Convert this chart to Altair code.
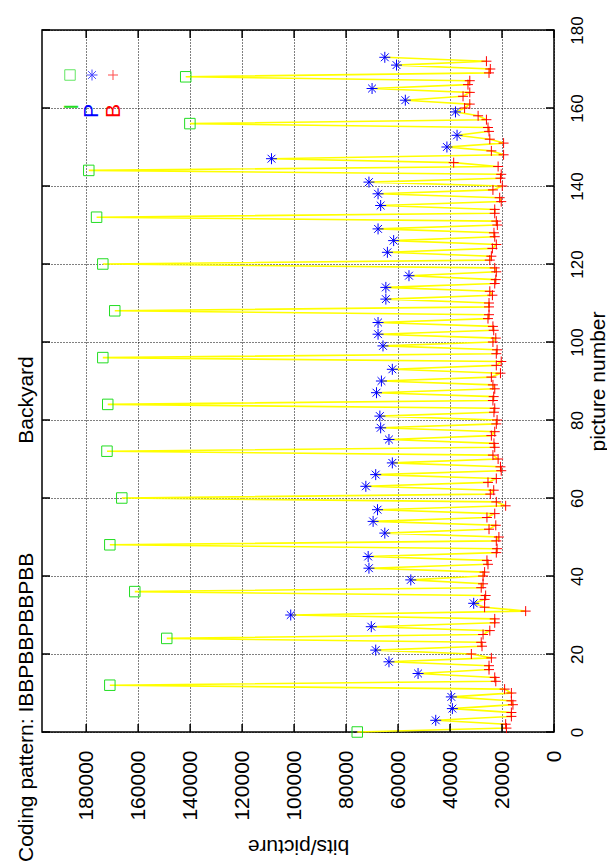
import altair as alt
import pandas as pd

FONT = "Liberation Sans"

pattern = "IBBPBBPBBPBB"
last_frame = 173

i_bits = [75700, 170900, 149000, 161300, 170900, 166300, 172000, 171700,
          173600, 169000, 173600, 176000, 179000, 140100, 141700]
p_bits = [45500, 39100, 39500, 52300, 63500, 68600, 70300, 101300, 30900,
          55100, 71200, 71500, 65100, 69600, 67900, 72400, 68600, 62200,
          63500, 66700, 67000, 68300, 66400, 62200, 65800, 67700, 67700,
          64700, 64700, 55800, 64100, 61700, 67700, 66700, 67700, 71200,
          108700, 41200, 37300, 37900, 57200, 70000, 60600, 65100]
b_bits = [18300, 18600, 16400, 16400, 15800, 16400, 16400, 19000,
          22400, 22800, 25000, 25000, 24100, 31800, 27700, 28000,
          27300, 24700, 22800, 22800, 10900, 26700, 26700, 26300,
          28000, 27300, 27300, 26700, 25400, 25800, 22200, 21900,
          22200, 21200, 25000, 22400, 25800, 22800, 18600, 22200,
          24500, 23200, 25400, 22200, 20300, 20600, 21500, 23500,
          22800, 23100, 24100, 22800, 22200, 21900, 23100, 22800,
          23500, 23200, 22800, 23500, 24100, 20600, 22200, 20300,
          22200, 21900, 23500, 22400, 23200, 23500, 25400, 25000,
          25000, 25000, 23700, 24700, 22800, 22400, 22200, 22800,
          24700, 24100, 23700, 22200, 22800, 23100, 21800, 22200,
          22800, 22800, 20300, 20900, 23500, 19900, 20600, 20300,
          21500, 38600, 19400, 24100, 19400, 24700, 25000, 25400,
          26000, 29200, 34400, 32400, 35000, 32400, 33100, 32400,
          25000, 24500, 26000]

bits_ticks = [0, 20000, 40000, 60000, 80000, 100000, 120000, 140000, 160000, 180000]
pic_ticks = [0, 20, 40, 60, 80, 100, 120, 140, 160, 180]

# assemble frames in display order
iters = {"I": iter(i_bits), "P": iter(p_bits), "B": iter(b_bits)}
rows = []
for f in range(last_frame + 1):
    t = pattern[f % len(pattern)]
    if f == last_frame:
        t = "P"
    rows.append({"frame": f, "type": t, "bits": next(iters[t])})
df = pd.DataFrame(rows)

W, H = 512, 702
xs = alt.Scale(domain=[0, 197000], reverse=True, nice=False, zero=False)
ys = alt.Scale(domain=[0, 180], nice=False, zero=False)

xaxis = alt.Axis(values=bits_ticks, format="d", grid=True, gridDash=[1, 2],
                 gridColor="black", gridWidth=1, gridOpacity=1, domain=False,
                 ticks=False, tickSize=0, labelAngle=270, labelAlign="right",
                 labelBaseline="middle", labelPadding=18, labelFontSize=21,
                 labelFont=FONT, labelColor="black", labelFlush=False,
                 labelOverlap=False, title="bits/picture", titleAngle=180,
                 titleFontSize=21, titleFont=FONT, titleFontWeight="normal",
                 titleColor="black", titleX=W / 2, titleY=113,
                 titleAlign="center", titleBaseline="middle")
yaxis = alt.Axis(orient="right", values=pic_ticks, format="d", grid=True,
                 gridDash=[1, 2], gridColor="black", gridWidth=1, gridOpacity=1,
                 domain=False, ticks=False, tickSize=0, labelAngle=270,
                 labelAlign="center", labelBaseline="middle", labelPadding=23,
                 labelFontSize=17, labelFont=FONT, labelColor="black",
                 labelFlush=False, labelOverlap=False, title="picture number",
                 titleAngle=270, titleFontSize=21, titleFont=FONT,
                 titleFontWeight="normal", titleColor="black", titleX=44,
                 titleY=H / 2, titleAlign="center", titleBaseline="middle")

X = alt.X("bits:Q", scale=xs, axis=xaxis)
Y = alt.Y("frame:Q", scale=ys, axis=yaxis)

line = alt.Chart(df).mark_line(color="#ffff00", strokeWidth=1.6).encode(
    x=X, y=Y, order="frame:Q",
)

STAR = "M-1,0L1,0M0,-1L0,1M-0.71,-0.71L0.71,0.71M-0.71,0.71L0.71,-0.71"
PLUS = "M-1,0L1,0M0,-1L0,1"
GREEN, BLUE, RED = "#22dd22", "#0000ff", "#ff0000"


def pts(t, shape, color, size):
    return alt.Chart(df).transform_filter(alt.datum.type == t).mark_point(
        shape=shape, filled=False, color=color, size=size, strokeWidth=1, opacity=1
    ).encode(x=X, y=Y)


i_pts = pts("I", "square", GREEN, 110)
p_pts = pts("P", STAR, BLUE, 121)
b_pts = pts("B", PLUS, RED, 100)

bt = pd.DataFrame({"bits": bits_ticks})
pt = pd.DataFrame({"frame": pic_ticks})
TL = 8
tick_top = alt.Chart(bt).mark_rule(color="black", strokeWidth=1.5).encode(
    x=X, y=alt.value(0), y2=alt.value(TL))
tick_bot = alt.Chart(bt).mark_rule(color="black", strokeWidth=1.5).encode(
    x=X, y=alt.value(H), y2=alt.value(H - TL))
tick_left = alt.Chart(pt).mark_rule(color="black", strokeWidth=1.5).encode(
    y=Y, x=alt.value(0), x2=alt.value(TL))
tick_right = alt.Chart(pt).mark_rule(color="black", strokeWidth=1.5).encode(
    y=Y, x=alt.value(W), x2=alt.value(W - TL))


def label(txt, x, y, size=21, color="black", align="center", baseline="alphabetic", angle=270):
    return alt.Chart(pd.DataFrame({"t": [txt]})).mark_text(
        angle=angle, font=FONT, fontSize=size, color=color, align=align,
        baseline=baseline).encode(text="t:N", x=alt.value(x), y=alt.value(y))


title_bk = label("Backyard", -9, 370, align="center")
title_cp = label("Coding pattern: IBBPBBPBBPBB", -9, 832, align="left")

# legend (rotated key)
leg_sym = [
    alt.Chart(pd.DataFrame({"t": ["I"]})).mark_point(shape="square", filled=False, color=GREEN, size=110, strokeWidth=1).encode(x=alt.value(28), y=alt.value(45)),
    alt.Chart(pd.DataFrame({"t": ["P"]})).mark_point(shape=STAR, filled=False, color=BLUE, size=121, strokeWidth=1).encode(x=alt.value(50), y=alt.value(45)),
    alt.Chart(pd.DataFrame({"t": ["B"]})).mark_point(shape=PLUS, filled=False, color=RED, size=100, strokeWidth=1).encode(x=alt.value(71), y=alt.value(45)),
]
leg_txt = [
    label("I", 36, 74, color=GREEN, align="right"),
    label("P", 56, 74, color=BLUE, align="right"),
    label("B", 78, 74, color=RED, align="right"),
]

chart = alt.layer(
    line, i_pts, p_pts, b_pts, tick_top, tick_bot, tick_left, tick_right,
    title_bk, title_cp, *leg_sym, *leg_txt
).properties(
    width=W, height=H, background="white",
    padding={"left": 42, "top": 30, "right": 53, "bottom": 131},
    autosize=alt.AutoSizeParams(type="none"),
).configure_view(stroke="black", strokeWidth=1.5)

chart.save("out.html", embed_options={"renderer": "svg", "actions": False})
